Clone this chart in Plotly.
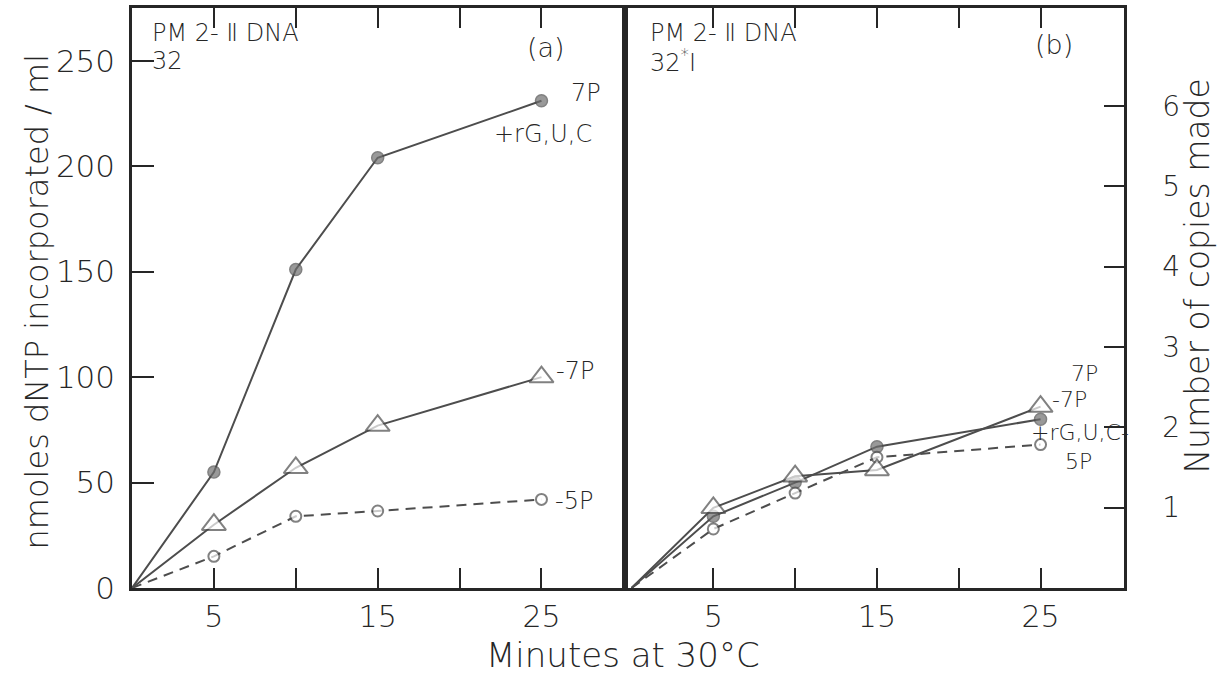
import plotly.graph_objects as go

# ---- data ----
minutes = [0, 5, 10, 15, 25]

# panel (a)  PM2-II DNA, 32
a_7p_rguc = [0, 55, 151, 204, 231]   # filled circles, 7P +rG,U,C
a_7p = [0, 30, 57, 77, 100]          # open triangles, 7P
a_5p = [0, 15, 34, 36.5, 42]         # open circles (dashed), 5P

# panel (b)  PM2-II DNA, 32*I
b_7p = [0, 38, 53, 56, 86]           # open triangles, 7P
b_7p_rguc = [0, 34, 50, 67, 80]      # filled circles, 7P +rG,U,C
b_5p = [0, 28, 45, 62, 68]           # open circles (dashed), 5P

y_tickvals = [0, 50, 100, 150, 200, 250]
x_label_ticks = [5, 15, 25]
x_minor_ticks = [10, 20]
copies_tickvals = [1, 2, 3, 4, 5, 6]
copies_ticktext = ["1", "2", "3", "4", "5", "6"]
nmoles_per_copy = 38.1

# ---- style ----
INK = "#262626"
LINE = "#4d4d4d"
FONT = "DejaVu Sans"
WT = 300
Y_MAX = 275

fig = go.Figure()


def add_panel(xa, ya, filled, tri, opencirc):
    n = len(minutes)
    fig.add_trace(go.Scatter(x=minutes, y=filled, xaxis=xa, yaxis=ya, mode="lines+markers",
                             line=dict(color=LINE, width=2),
                             marker=dict(symbol="circle", size=[0] + [12] * (n - 1), color="#6e6e6e",
                                         line=dict(color=LINE, width=1.5)),
                             showlegend=False, hoverinfo="skip"))
    fig.add_trace(go.Scatter(x=minutes, y=opencirc, xaxis=xa, yaxis=ya, mode="lines+markers",
                             line=dict(color=LINE, width=2, dash="10px,7px"),
                             marker=dict(symbol="circle", size=[0] + [11] * (n - 1), color="white",
                                         line=dict(color=LINE, width=2)),
                             showlegend=False, hoverinfo="skip"))
    fig.add_trace(go.Scatter(x=minutes, y=tri, xaxis=xa, yaxis=ya, mode="lines+markers",
                             line=dict(color=LINE, width=2),
                             marker=dict(symbol="triangle-up", size=[0] + [21] * (n - 1), color="white",
                                         line=dict(color=LINE, width=2)),
                             showlegend=False, hoverinfo="skip"))


add_panel("x", "y", a_7p_rguc, a_7p, a_5p)
add_panel("x2", "y2", b_7p_rguc, b_7p, b_5p)

# invisible trace so that the right-hand "copies" axis is drawn
fig.add_trace(go.Scatter(x=[minutes[0]], y=[0], xaxis="x2", yaxis="y3", mode="markers",
                         marker=dict(size=0, opacity=0), showlegend=False, hoverinfo="skip"))

W, H = 1224, 678
ML, MR, MT, MB = 132, 100, 5, 90
plot_w = W - ML - MR
plot_h = H - MT - MB
split = (625 - ML) / plot_w

tickfont = dict(family=FONT, size=30, color=INK, weight=WT)
common_x = dict(ticks="inside", ticklen=20, tickwidth=1.5, tickcolor=INK,
                tickmode="array", tickvals=x_label_ticks, tickfont=tickfont,
                minor=dict(tickmode="array", tickvals=x_minor_ticks, ticks="inside",
                           ticklen=20, tickwidth=1.5, tickcolor=INK, showgrid=False),
                showline=True, linewidth=2.5, linecolor=INK, mirror="ticks",
                showgrid=False, zeroline=False, ticklabelstandoff=0, fixedrange=True)

fig.update_layout(
    width=W, height=H,
    margin=dict(l=ML, r=MR, t=MT, b=MB),
    paper_bgcolor="white", plot_bgcolor="white",
    font=dict(family=FONT, color=INK),
    xaxis=dict(domain=[0, split], range=[0, 30.1], anchor="y", **common_x),
    xaxis2=dict(domain=[split, 1], range=[-0.4, 30.1], anchor="y2", **common_x),
    yaxis=dict(domain=[0, 1], range=[0, Y_MAX], anchor="x",
               ticks="inside", ticklen=22, tickwidth=1.5, tickcolor=INK,
               tickvals=y_tickvals, tickfont=dict(family=FONT, size=31, color=INK, weight=WT),
               showline=True, linewidth=2.5, linecolor=INK, mirror=True,
               showgrid=False, zeroline=False, ticklabelstandoff=8),
    yaxis2=dict(domain=[0, 1], range=[0, Y_MAX], anchor="x2",
                showticklabels=False, ticks="",
                showline=True, linewidth=2.5, linecolor=INK, mirror=True,
                showgrid=False, zeroline=False),
    yaxis3=dict(domain=[0, 1], range=[0, Y_MAX / nmoles_per_copy], anchor="x2",
                overlaying="y2", side="right",
                ticks="inside", ticklen=20, tickwidth=1.5, tickcolor=INK,
                tickmode="array", tickvals=copies_tickvals, ticktext=copies_ticktext,
                tickfont=dict(family=FONT, size=28, color=INK, weight=WT),
                showline=True, linewidth=2.5, linecolor=INK,
                showgrid=False, zeroline=False, ticklabelstandoff=30),
)

ann = []
lab = dict(family=FONT, size=24, color=INK, weight=WT)
labb = dict(family=FONT, size=22, color=INK, weight=WT)
hdr = dict(family=FONT, size=24, color=INK, weight=WT)
big = dict(family=FONT, size=27, color=INK, weight=WT)


def txt(text, x, y, xref, yref, font, xanchor="left", yanchor="middle", xshift=0, yshift=0):
    ann.append(dict(text=text, x=x, y=y, xref=xref, yref=yref, showarrow=False,
                    font=font, xanchor=xanchor, yanchor=yanchor, xshift=xshift, yshift=yshift))


def py(pix):
    return (H - MB - pix) / plot_h


def px(pix):
    return (pix - ML) / plot_w


# panel (a) header
txt("PM 2- Ⅱ DNA", 1.1, py(30), "x", "paper", hdr)
txt("32", 1.1, py(58), "x", "paper", hdr)
txt("(a)", 0.84, py(45), "x domain", "paper", big, xanchor="center")
# panel (a) curve labels
txt("7P", 25, a_7p_rguc[-1], "x", "y", lab, xshift=28, yshift=8)
txt("+rG,U,C", 25, a_7p_rguc[-1], "x", "y", lab, xanchor="center", xshift=2, yshift=-33)
txt("-7P", 25, a_7p[-1], "x", "y", lab, xshift=13, yshift=6)
txt("-5P", 25, a_5p[-1], "x", "y", lab, xshift=12, yshift=-2)

# panel (b) header
txt("PM 2- Ⅱ DNA", 1.0, py(30), "x2", "paper", hdr)
txt("32<sup>*</sup>I", 1.0, py(58), "x2", "paper", hdr)
txt("(b)", 0.86, py(42), "x2 domain", "paper", big, xanchor="center")
# panel (b) curve labels
txt("7P", 25, b_7p[-1], "x2", "y2", labb, xshift=28, yshift=33)
txt("-7P", 25, b_7p_rguc[-1], "x2", "y2", labb, xshift=9, yshift=20)
txt("+rG,U,C-", 25, b_7p_rguc[-1], "x2", "y2", labb, xshift=-12, yshift=-13)
txt("5P", 25, b_5p[-1], "x2", "y2", labb, xshift=22, yshift=-17)

# axis titles (positioned in pixels, converted to paper coords)
ann.append(dict(text="nmoles dNTP incorporated / ml", x=px(37), y=py(300), xref="paper", yref="paper",
                showarrow=False, textangle=-90, font=dict(family=FONT, size=32, color=INK, weight=WT),
                xanchor="center", yanchor="middle"))
ann.append(dict(text="Number of copies made", x=px(1198), y=py(275), xref="paper", yref="paper",
                showarrow=False, textangle=-90, font=dict(family=FONT, size=33, color=INK, weight=WT),
                xanchor="center", yanchor="middle"))
ann.append(dict(text="Minutes at 30°C", x=px(623), y=py(655), xref="paper", yref="paper",
                showarrow=False, font=dict(family=FONT, size=34, color=INK, weight=WT),
                xanchor="center", yanchor="middle"))

fig.update_layout(annotations=ann)
fig.write_html("out.html")
